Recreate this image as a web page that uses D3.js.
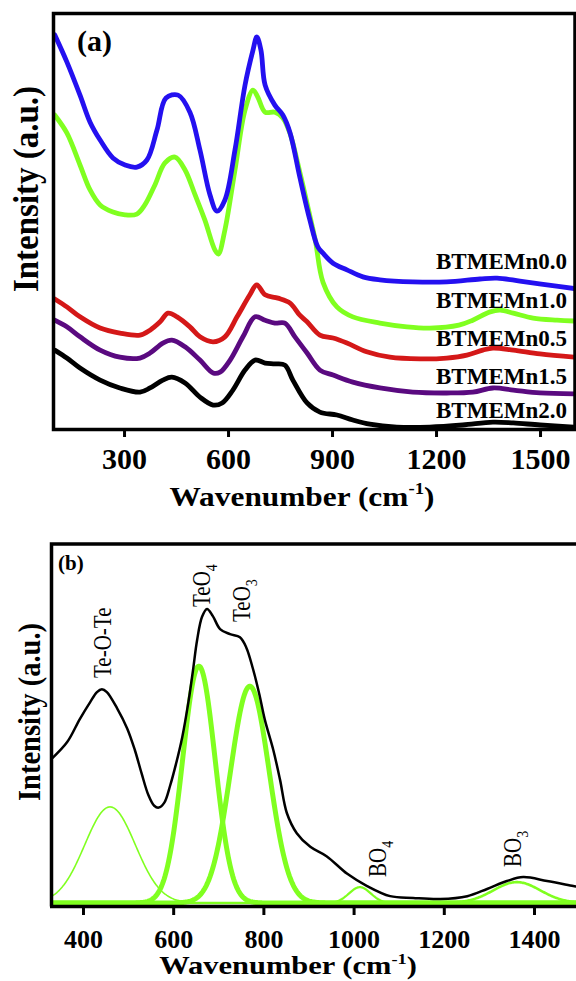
<!DOCTYPE html>
<html>
<head>
<meta charset="utf-8">
<script src="https://cdn.jsdelivr.net/npm/d3@7"></script>
<style>
  html, body { margin: 0; padding: 0; background: #fff; }
  svg { display: block; }
  text { font-family: "Liberation Serif", "Times New Roman", serif; fill: #000; }
</style>
</head>
<body>
<svg id="chart" width="576" height="981"></svg>
<script>
// ---------- Panel (a): Raman spectra, [wavenumber (cm-1), intensity (a.u.)] ----------
const sampleNames = ["BTMEMn0.0", "BTMEMn1.0", "BTMEMn0.5", "BTMEMn1.5", "BTMEMn2.0"];

const spectrumMn00 = [[100,95.0],[135,88.5],[173,80.5],[202,74.0],[231,69.7],[268,65.4],[303,63.7],[337,63.2],[366,64.9],[395,72.1],[421,79.8],[456,80.5],[490,76.4],[519,67.3],[548,56.5],[568,52.6],[591,55.3],[620,67.3],[649,82.9],[672,91.3],[683,94.5],[695,91.3],[707,82.9],[735,78.1],[758,75.7],[779,71.4],[807,60.8],[836,50.5],[859,44.0],[874,42.5],[903,40.1],[943,38.5],[989,36.8],[1038,36.1],[1133,35.6],[1231,35.6],[1327,36.3],[1376,36.5],[1442,35.8],[1520,34.9],[1600,34.0]];

const spectrumMn10 = [[100,75.7],[135,71.4],[173,63.7],[202,57.7],[231,54.1],[268,52.4],[303,51.7],[337,51.9],[360,54.1],[389,58.9],[418,64.2],[447,65.6],[476,62.5],[505,56.5],[533,50.5],[562,43.3],[572,42.3],[591,48.1],[620,62.5],[649,76.9],[672,81.7],[686,80.0],[707,76.4],[735,76.4],[758,75.0],[779,71.2],[807,62.0],[836,51.5],[852,45.5],[874,35.5],[914,29.6],[960,27.2],[1038,25.7],[1116,24.8],[1182,24.5],[1266,25.2],[1306,26.4],[1356,28.4],[1385,28.8],[1423,28.1],[1480,26.9],[1549,26.4],[1600,26.2]];

const spectrumMn05 = [[100,31.5],[135,29.6],[173,27.2],[231,24.5],[288,23.3],[346,22.8],[375,24.0],[404,26.0],[427,28.1],[453,27.2],[490,24.8],[519,22.4],[557,21.2],[591,22.4],[626,27.2],[663,32.5],[683,34.9],[707,32.5],[744,31.7],[779,30.5],[807,27.6],[828,26.0],[865,22.8],[903,22.1],[943,20.9],[1000,18.8],[1067,17.5],[1154,17.1],[1231,17.3],[1289,18.0],[1335,19.2],[1364,19.7],[1423,19.2],[1500,18.3],[1600,17.5]];

const spectrumMn15 = [[100,26.4],[135,24.8],[173,22.4],[231,19.2],[288,17.5],[346,17.3],[375,18.5],[412,20.9],[438,21.6],[476,20.0],[519,16.8],[557,13.7],[577,13.9],[606,16.8],[643,22.4],[678,27.2],[707,26.4],[735,25.7],[764,25.7],[793,22.4],[828,18.5],[865,14.4],[903,13.2],[960,11.5],[1038,10.1],[1133,9.1],[1231,8.9],[1306,9.1],[1364,10.1],[1423,9.6],[1500,8.9],[1600,8.7]];

const spectrumMn20 = [[100,19.2],[135,17.3],[173,14.9],[231,12.0],[288,10.1],[346,9.1],[375,10.1],[412,12.0],[438,12.7],[476,11.3],[519,7.9],[557,6.0],[583,6.5],[614,9.6],[649,14.4],[678,16.8],[707,16.1],[735,15.9],[764,15.6],[787,12.0],[828,6.5],[865,4.3],[914,3.6],[960,2.4],[1009,1.4],[1087,0.7],[1182,0.7],[1277,1.2],[1364,1.9],[1423,1.7],[1500,1.2],[1600,0.7]];

const topTicks = [300, 600, 900, 1200, 1500];

// ---------- Panel (b): deconvoluted spectrum ----------
const fitSpectrum = [[330,40.0],[365,44.7],[393,51.1],[416,55.8],[431,58.6],[442,59.4],[453,58.6],[476,54.0],[498,48.5],[515,42.5],[530,36.0],[545,30.0],[558,27.0],[568,26.5],[580,27.8],[593,32.5],[606,38.5],[620,46.0],[634,56.0],[644,64.7],[653,73.0],[664,79.5],[675,81.7],[688,79.7],[704,76.1],[726,74.7],[748,73.8],[762,71.0],[777,65.0],[791,58.0],[803,51.0],[822,42.5],[837,34.2],[852,25.0],[874,19.4],[904,15.6],[940,13.0],[986,8.1],[1030,4.7],[1081,1.9],[1132,1.4],[1192,1.1],[1252,1.9],[1296,3.9],[1340,6.1],[1376,7.2],[1429,6.1],[1487,4.7],[1500,4.4]];

// Gaussian components: band assignment, centre (cm-1), height (a.u.), sigma (cm-1)
const peakLabels  = ["Te-O-Te", "TeO4", "TeO3", "BO4", "BO3"];
const peakCenters = [460, 657, 770, 1014, 1362];
const peakHeights = [26.7, 65.8, 60.2, 4.4, 5.8];
const peakSigmas  = [56, 36, 43, 24, 52];

const bottomTicks = [400, 600, 800, 1000, 1200, 1400];

// ---------- drawing ----------
const svg = d3.select("#chart");
const seriesColors = ["#2410f0", "#80ff20", "#d41818", "#5a0a80", "#000000"];
const topData = [spectrumMn00, spectrumMn10, spectrumMn05, spectrumMn15, spectrumMn20];
const tickFmt = d3.format("d");

// panel (a) scales
const xA = d3.scaleLinear().domain([100, 1600]).range([54.7, 574.7]);
const yA = d3.scaleLinear().domain([0, 100]).range([430, 14]);

const defs = svg.append("defs");
defs.append("clipPath").attr("id", "clipA")
  .append("rect").attr("x", 55).attr("y", 15).attr("width", 519).attr("height", 413);
defs.append("clipPath").attr("id", "clipB")
  .append("rect").attr("x", 52).attr("y", 546).attr("width", 530).attr("height", 359);

const lineA = d3.line()
  .x(d => xA(d[0])).y(d => yA(d[1]))
  .curve(d3.curveCatmullRom.alpha(0.5));

const gA = svg.append("g").attr("clip-path", "url(#clipA)");
// draw bottom-most first so upper traces sit on top
[4, 3, 2, 1, 0].forEach(i => {
  gA.append("path")
    .datum(topData[i])
    .attr("d", lineA)
    .attr("fill", "none")
    .attr("stroke", seriesColors[i])
    .attr("stroke-width", 4.8)
    .attr("stroke-linejoin", "round")
    .attr("stroke-linecap", "round");
});

// frame of panel (a)
svg.append("rect")
  .attr("x", 53.5).attr("y", 13.5).attr("width", 521.5).attr("height", 416)
  .attr("fill", "none").attr("stroke", "#000").attr("stroke-width", 3.5);

// x axis of panel (a)
const axA = svg.append("g").attr("transform", "translate(0,430)")
  .call(d3.axisBottom(xA).tickValues(topTicks).tickFormat(tickFmt).tickSize(7).tickSizeOuter(0));
axA.select(".domain").remove();
axA.selectAll(".tick line").attr("stroke", "#000").attr("stroke-width", 3);
axA.selectAll(".tick text")
  .attr("y", 39).attr("dy", 0)
  .attr("font-size", 30).attr("font-weight", "bold")
  .attr("font-family", "'Liberation Serif','Times New Roman',serif");

// series names
const labelBaselines = [269, 308, 346, 384, 418];
sampleNames.forEach((name, i) => {
  svg.append("text")
    .attr("x", 567).attr("y", labelBaselines[i])
    .attr("text-anchor", "end")
    .attr("font-size", 23).attr("font-weight", "bold")
    .text(name);
});

// panel tag and axis titles (a)
svg.append("text").attr("x", 77).attr("y", 51)
  .attr("font-size", 30).attr("font-weight", "bold").text("(a)");

function wavenumberTitle(cx, baseline, size, sx) {
  const t = svg.append("text")
    .attr("transform", `translate(${cx},${baseline}) scale(${sx},1)`)
    .attr("text-anchor", "middle")
    .attr("font-size", size).attr("font-weight", "bold");
  t.append("tspan").text("Wavenumber (cm");
  t.append("tspan").attr("font-size", size * 0.6).attr("dy", -size * 0.42).text("-1");
  t.append("tspan").attr("dy", size * 0.42).text(")");
}
wavenumberTitle(302, 506, 28, 1.12);

svg.append("text")
  .attr("transform", "translate(38,189) rotate(-90) scale(1,1.08)")
  .attr("text-anchor", "middle")
  .attr("font-size", 33).attr("font-weight", "bold")
  .text("Intensity (a.u.)");

// ---------- panel (b) ----------
const xB = d3.scaleLinear().domain([330, 1500]).range([51.4, 579.1]);
const yB = d3.scaleLinear().domain([0, 100]).range([903, 543]);

const gB = svg.append("g").attr("clip-path", "url(#clipB)");

// Gaussian components evaluated across the axis range
const gridB = d3.range(330, 1501, 2);
const peakWidths = [1.6, 5, 5, 2.2, 2.6];
peakCenters.forEach((c, i) => {
  const pts = gridB.map(w => [w, peakHeights[i] * Math.exp(-0.5 * Math.pow((w - c) / peakSigmas[i], 2))]);
  gB.append("path")
    .datum(pts)
    .attr("d", d3.line().x(d => xB(d[0])).y(d => yB(d[1])))
    .attr("fill", "none")
    .attr("stroke", "#80ff20")
    .attr("stroke-width", peakWidths[i])
    .attr("stroke-linejoin", "round");
});

gB.append("path")
  .datum(fitSpectrum)
  .attr("d", d3.line().x(d => xB(d[0])).y(d => yB(d[1])).curve(d3.curveCatmullRom.alpha(0.5)))
  .attr("fill", "none")
  .attr("stroke", "#000")
  .attr("stroke-width", 2.5)
  .attr("stroke-linejoin", "round");

// frame of panel (b): left, top and bottom edges
svg.append("path")
  .attr("d", "M51.5,906.5 V544 H580")
  .attr("fill", "none").attr("stroke", "#000").attr("stroke-width", 3.5);
svg.append("path")
  .attr("d", "M50,906.5 H580")
  .attr("fill", "none").attr("stroke", "#000").attr("stroke-width", 3.5);

const axB = svg.append("g").attr("transform", "translate(0,906)")
  .call(d3.axisBottom(xB).tickValues(bottomTicks).tickFormat(tickFmt).tickSize(9).tickSizeOuter(0));
axB.select(".domain").remove();
axB.selectAll(".tick line").attr("stroke", "#000").attr("stroke-width", 3);
axB.selectAll(".tick text")
  .attr("y", 42).attr("dy", 0)
  .attr("font-size", 26).attr("font-weight", "bold")
  .attr("font-family", "'Liberation Serif','Times New Roman',serif");

svg.append("text").attr("x", 58).attr("y", 570)
  .attr("font-size", 21).attr("font-weight", "bold").text("(b)");

wavenumberTitle(288, 974, 25, 1.22);

svg.append("text")
  .attr("transform", "translate(40,712) rotate(-90) scale(1,1.1)")
  .attr("text-anchor", "middle")
  .attr("font-size", 28.5).attr("font-weight", "bold")
  .text("Intensity (a.u.)");

// band labels, written upward beside each component
const bandLabelAnchors = [[111, 678], [210, 607], [250, 622], [386, 877], [521, 867]];
peakLabels.forEach((lab, i) => {
  const [bx, by] = bandLabelAnchors[i];
  const m = lab.match(/^(.*?)(\d)$/);
  const t = svg.append("text")
    .attr("transform", `translate(${bx},${by}) rotate(-90) scale(1,1.22)`)
    .attr("font-size", 21);
  if (m) {
    t.append("tspan").text(m[1]);
    t.append("tspan").attr("font-size", 14).attr("dy", 6).text(m[2]);
  } else {
    t.text(lab);
  }
});
</script>
</body>
</html>
